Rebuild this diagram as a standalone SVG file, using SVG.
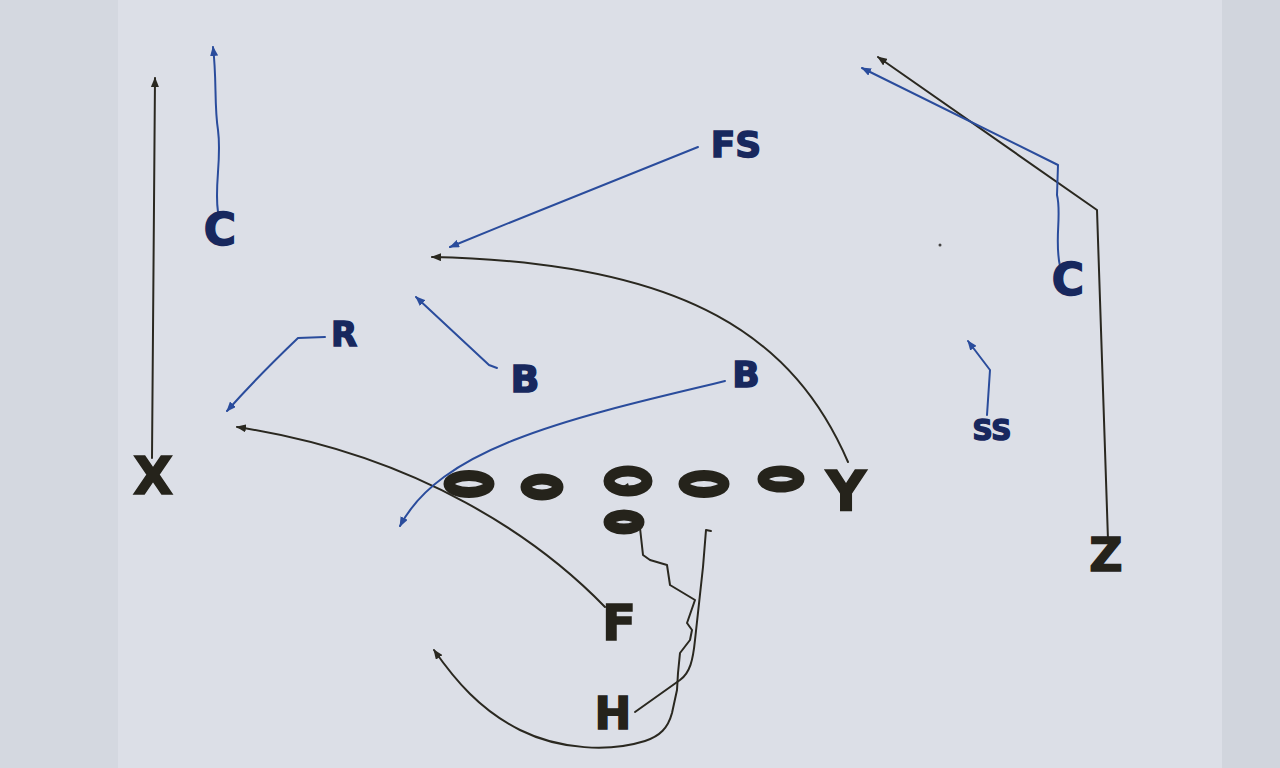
<svg xmlns="http://www.w3.org/2000/svg" width="1280" height="768" viewBox="0 0 1280 768">
<defs>
<marker id="ak" viewBox="0 0 10 8" refX="9" refY="4" markerWidth="10" markerHeight="8" markerUnits="userSpaceOnUse" orient="auto"><path d="M0,0 L10,4 L0,8 Z" fill="#2a2820"/></marker>
<marker id="ab" viewBox="0 0 10 8" refX="9" refY="4" markerWidth="10" markerHeight="8" markerUnits="userSpaceOnUse" orient="auto"><path d="M0,0 L10,4 L0,8 Z" fill="#2a4c9c"/></marker>
</defs>
<style>
.k{fill:none;stroke:#2a2820;stroke-width:2;stroke-linecap:round;stroke-linejoin:round}
.b{fill:none;stroke:#2a4c9c;stroke-width:2;stroke-linecap:round;stroke-linejoin:round}
.tk{font-family:"DejaVu Sans",sans-serif;font-weight:bold;fill:#25231b;text-anchor:middle;stroke:#25231b;stroke-width:1.5}
.tb{font-family:"DejaVu Sans",sans-serif;font-weight:bold;fill:#18285e;text-anchor:middle;stroke:#18285e;stroke-width:1.5}
.ov{fill:none;stroke:#25231b;stroke-width:11}
</style>
<rect width="1280" height="768" fill="#dcdfe7"/>
<rect x="0" y="0" width="118" height="768" fill="#d4d8e0"/>
<rect x="1222" y="0" width="58" height="768" fill="#d1d5dd"/>
<circle cx="940" cy="245" r="1.5" fill="#444"/>
<g id="connectors">
<path class="k" d="M152,458 L155,78" marker-end="url(#ak)"/>
<path class="k" d="M848,462 C795,340 690,262 432,257" marker-end="url(#ak)"/>
<path class="k" d="M1108,540 L1097,210 L878,57" marker-end="url(#ak)"/>
<path class="k" d="M605,607 C540,540 420,455 237,427" marker-end="url(#ak)"/>
<path class="k" d="M640,528 L643,555 L650,560 L667,565 L670,585 L695,600 L687,623 L692,630 L690,640 L680,653 L678,673 L677,690 L672,713 C668,728 660,736 645,741 C610,752 560,750 520,730 C480,710 455,680 434,650" marker-end="url(#ak)"/>
<path class="k" d="M635,712 L680,680 C690,673 693,660 695,640 L703,567 L706,530 L711,531"/>
<path class="b" d="M218,212 C214,185 222,160 218,130 C214,105 217,80 213,47" marker-end="url(#ab)"/>
<path class="b" d="M698,147 C640,170 540,210 450,247" marker-end="url(#ab)"/>
<path class="b" d="M325,337 L298,338 C275,360 250,385 227,411" marker-end="url(#ab)"/>
<path class="b" d="M497,368 L489,365 L416,297" marker-end="url(#ab)"/>
<path class="b" d="M725,381 L713,384 C560,420 440,450 400,526" marker-end="url(#ab)"/>
<path class="b" d="M1060,266 C1054,240 1062,215 1057,195 L1058,165 L862,68" marker-end="url(#ab)"/>
<path class="b" d="M987,415 L990,370 L968,341" marker-end="url(#ab)"/>
</g>
<g id="X"><text class="tk" x="153" y="494" font-size="52">X</text></g>
<g id="C-left"><text class="tb" x="220" y="245" font-size="44">C</text></g>
<g id="FS"><text class="tb" x="736" y="157" font-size="36">FS</text></g>
<g id="R"><text class="tb" x="344" y="346" font-size="34">R</text></g>
<g id="B-left"><text class="tb" x="525" y="392" font-size="38">B</text></g>
<g id="B-right"><text class="tb" x="746" y="387" font-size="36">B</text></g>
<g id="C-right"><text class="tb" x="1068" y="295" font-size="44">C</text></g>
<g id="SS"><text class="tb" x="992" y="440" font-size="28">SS</text></g>
<g id="Z"><text class="tk" x="1106" y="571" font-size="46">Z</text></g>
<g id="LT"><ellipse class="ov" cx="469" cy="484" rx="20" ry="8.5"/></g>
<g id="LG"><ellipse class="ov" cx="542" cy="487" rx="16" ry="8"/></g>
<g id="CTR"><ellipse class="ov" cx="628" cy="481" rx="19" ry="10"/><path d="M622,487 L628,483 L630,490 Z" fill="#25231b"/></g>
<g id="RG"><ellipse class="ov" cx="704" cy="484" rx="20" ry="8.5"/></g>
<g id="RT"><ellipse class="ov" cx="781" cy="479" rx="18" ry="8"/></g>
<g id="Y"><text class="tk" x="846" y="510" font-size="56">Y</text></g>
<g id="QB"><ellipse class="ov" cx="624" cy="522" rx="15" ry="7"/></g>
<g id="F"><text class="tk" x="619" y="640" font-size="50">F</text></g>
<g id="H"><text class="tk" x="613" y="729" font-size="44">H</text></g>
</svg>
